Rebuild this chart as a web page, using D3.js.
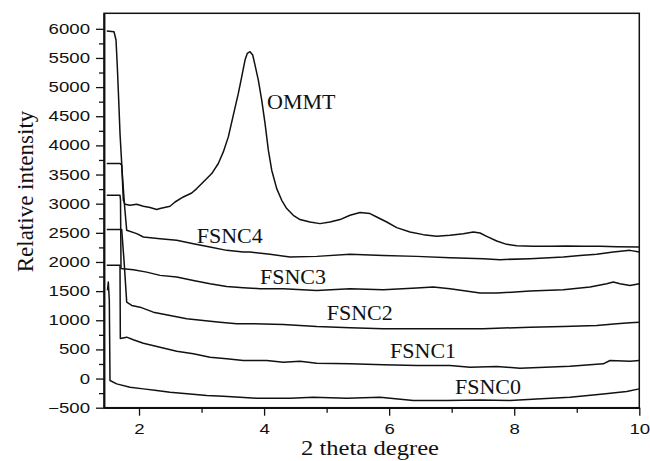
<!DOCTYPE html>
<html lang="en">
<head>
<meta charset="UTF-8">
<title>XRD patterns - OMMT and FSNC</title>
<style>
  body { margin: 0; background: #fff; }
  .tick-label { font-family: 'Liberation Sans', Arial, sans-serif; font-size: 14px; fill: #111; }
  .title { font-family: 'Liberation Serif', 'Times New Roman', serif; fill: #111; }
  .curve-label { font-family: 'Liberation Serif', 'Times New Roman', serif; font-size: 22px; fill: #111; }
</style>
</head>
<body>
<svg id="chart" width="650" height="461"></svg>

<script src="https://d3js.org/d3.v7.min.js"></script>
<script>
// ---- data (2 theta, relative intensity) ----
const ommtX = [1.484,1.600,1.632,1.653,1.675,1.696,1.723,1.749,1.776,1.856,1.963,2.069,2.176,2.283,2.336,2.496,2.576,2.708,2.843,2.923,3.028,3.163,3.268,3.348,3.428,3.508,3.588,3.642,3.695,3.732,3.775,3.818,3.855,3.908,3.962,4.015,4.068,4.122,4.202,4.282,4.362,4.467,4.574,4.734,4.894,5.054,5.214,5.374,5.534,5.694,5.801,5.961,6.121,6.333,6.546,6.760,6.973,7.186,7.346,7.453,7.560,7.720,7.880,8.039,8.305,8.572,8.839,9.106,9.372,9.639,10];
const ommtY = [5962,5950,5808,5349,4777,4204,3689,3058,2990,2973,2990,2955,2933,2899,2916,2955,3029,3115,3184,3259,3373,3517,3689,3888,4146,4519,4892,5177,5464,5579,5607,5550,5378,5120,4777,4376,3918,3574,3259,3058,2916,2801,2727,2686,2658,2686,2727,2801,2847,2830,2771,2686,2589,2514,2469,2440,2457,2486,2514,2497,2440,2359,2302,2280,2268,2268,2273,2268,2268,2263,2256];

const fsnc4X = [1.484,1.696,1.723,1.768,1.803,1.963,2.069,2.336,2.603,2.869,3.135,3.402,3.668,3.775,4.095,4.415,4.841,5.374,5.906,6.440,6.973,7.505,7.772,8.252,8.785,9.052,9.319,9.584,9.851,10];
const fsnc4Y = [3689,3689,3660,2973,2543,2486,2428,2400,2371,2314,2256,2199,2170,2170,2131,2084,2096,2131,2113,2096,2074,2057,2040,2057,2084,2113,2131,2170,2199,2170];

const fsnc3X = [1.484,1.696,1.704,1.712,1.749,1.909,2.123,2.336,2.603,2.869,3.135,3.402,3.668,3.935,4.308,4.841,5.374,5.906,6.440,6.706,6.973,7.453,7.720,8.252,8.785,9.212,9.479,9.584,9.691,9.851,10];
const fsnc3Y = [3144,3144,3058,1890,1885,1868,1826,1770,1741,1684,1627,1581,1558,1541,1541,1512,1541,1524,1552,1569,1541,1466,1466,1500,1524,1569,1627,1655,1627,1598,1627];

const fsnc2X = [1.484,1.723,1.760,1.803,1.883,2.016,2.229,2.496,2.763,3.028,3.295,3.562,3.828,4.308,4.841,5.374,5.906,6.440,6.973,7.505,8.252,8.785,9.319,9.639,9.851,10];
const fsnc2Y = [2555,2555,2027,1311,1254,1225,1139,1082,1026,997,967,940,940,928,893,871,854,854,854,854,881,893,911,940,957,967];

const fsnc1X = [1.484,1.696,1.701,1.803,1.909,2.069,2.336,2.603,2.869,3.135,3.402,3.668,4.042,4.308,4.574,4.841,5.374,5.906,6.440,6.973,7.293,7.720,8.092,8.892,9.424,9.532,9.851,10];
const fsnc1Y = [1942,1942,687,710,665,607,538,469,424,366,338,309,309,280,297,263,253,235,223,223,194,206,177,211,253,309,297,309];

const fsnc0X = [1.496,1.509,1.525,1.536,1.643,1.856,2.069,2.283,2.496,2.815,3.083,3.348,3.615,3.882,4.148,4.415,4.788,5.321,5.854,6.387,6.920,7.453,7.933,8.359,8.892,9.424,9.798,10];
const fsnc0Y = [1512,1655,1340,-34,-91,-149,-177,-206,-235,-263,-292,-304,-321,-338,-338,-338,-321,-338,-321,-378,-378,-366,-378,-349,-321,-263,-223,-177];

const seriesNames = ["OMMT", "FSNC4", "FSNC3", "FSNC2", "FSNC1", "FSNC0"];
// where each name sits (2 theta, intensity at the text baseline)
const labelX = [4.047, 2.923, 3.935, 5.001, 6.014, 7.053];
const labelY = [4631, 2325, 1615, 997, 356, -258];

const xMajor = [2, 4, 6, 8, 10];
const xMinor = [3, 5, 7, 9];
const yMajor = d3.range(-500, 6001, 500);
const yMinor = d3.range(-250, 6001, 500);

// ---- layout ----
const W = 650, H = 461;
const margin = {top: 13.3, right: 10.7, bottom: 53.3, left: 104};
const iw = W - margin.left - margin.right;
const ih = H - margin.top - margin.bottom;

const svg = d3.select("#chart");
const g = svg.append("g").attr("transform", `translate(${margin.left},${margin.top})`);

const x = d3.scaleLinear().domain([1.44, 10]).range([0, iw]);
const y = d3.scaleLinear().domain([-500, 6266]).range([ih, 0]);

const allX = [ommtX, fsnc4X, fsnc3X, fsnc2X, fsnc1X, fsnc0X];
const allY = [ommtY, fsnc4Y, fsnc3Y, fsnc2Y, fsnc1Y, fsnc0Y];
const series = seriesNames.map((name, i) => ({
  name,
  pts: allX[i].map((v, j) => [v, allY[i][j]]),
  lx: labelX[i], ly: labelY[i]
}));

//--------------------------------------
// curves
//--------------------------------------
const line = d3.line().x(d => x(d[0])).y(d => y(d[1]));
g.selectAll("path.curve")
  .data(series)
  .join("path")
    .attr("class", "curve")
    .attr("d", d => line(d.pts))
    .attr("fill", "none")
    .attr("stroke", "#111")
    .attr("stroke-width", 1.5)
    .attr("stroke-linejoin", "round");

g.selectAll("text.curve-label")
  .data(series)
  .join("text")
    .attr("class", "curve-label")
    .attr("x", d => x(d.lx))
    .attr("y", d => y(d.ly))
    .text(d => d.name);

//--------------------------------------
// frame + axes
//--------------------------------------
g.append("rect")
  .attr("width", iw).attr("height", ih)
  .attr("fill", "none").attr("stroke", "#111").attr("stroke-width", 1.5);

g.append("g").attr("transform", `translate(0,${ih})`)
  .call(d3.axisBottom(x).tickValues(xMajor).tickSize(8).tickSizeOuter(0).tickPadding(8).tickFormat(d3.format("d")));
g.append("g").attr("transform", `translate(0,${ih})`)
  .call(d3.axisBottom(x).tickValues(xMinor).tickSize(5).tickSizeOuter(0).tickFormat(""));

g.append("g")
  .call(d3.axisLeft(y).tickValues(yMajor).tickSize(8).tickSizeOuter(0).tickPadding(6).tickFormat(d3.format("d")));
g.append("g")
  .call(d3.axisLeft(y).tickValues(yMinor).tickSize(5).tickSizeOuter(0).tickFormat(""));

g.selectAll(".domain").attr("stroke", "#111").attr("stroke-width", 1.5);
g.selectAll(".tick line").attr("stroke", "#111").attr("stroke-width", 1.3);

// the digits in the figure are wide; stretch them a little
g.selectAll(".tick text")
  .attr("class", "tick-label")
  .attr("font-family", null).attr("font-size", null)
  .each(function() {
    const w = this.getComputedTextLength();
    if (w > 0) d3.select(this).attr("textLength", w * 1.33).attr("lengthAdjust", "spacingAndGlyphs");
  });

//--------------------------------------
// titles
//--------------------------------------
svg.append("text")
  .attr("class", "title")
  .attr("x", 370).attr("y", 455)
  .attr("text-anchor", "middle")
  .attr("font-size", 21)
  .attr("textLength", 138).attr("lengthAdjust", "spacingAndGlyphs")
  .text("2 theta degree");

svg.append("text")
  .attr("class", "title")
  .attr("transform", "translate(33,191.5) rotate(-90)")
  .attr("text-anchor", "middle")
  .attr("font-size", 23)
  .text("Relative intensity");
</script>
</body>
</html>
